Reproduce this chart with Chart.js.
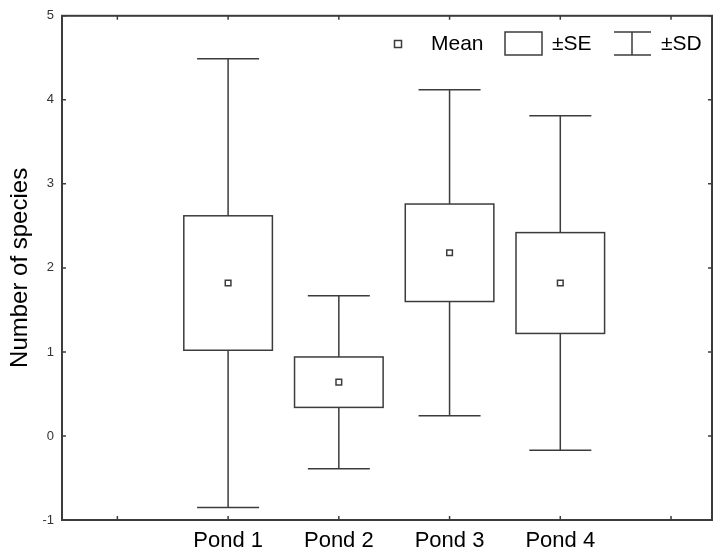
<!DOCTYPE html>
<html>
<head>
<meta charset="utf-8">
<script src="https://cdn.jsdelivr.net/npm/chart.js@4"></script>
<style>
  html, body { margin: 0; padding: 0; background: #fff; }
  #wrap { width: 720px; height: 554px; }
</style>
</head>
<body>
<div id="wrap"><canvas id="grafico" width="720" height="554"></canvas></div>
<script>
const categories = ["Pond 1", "Pond 2", "Pond 3", "Pond 4"];
const means = [1.82, 0.64, 2.18, 1.82];
const se = [0.8, 0.3, 0.58, 0.6];
const sd = [2.67, 1.03, 1.94, 1.99];
const yTicks = [-1, 0, 1, 2, 3, 4, 5];
const xSlots = [0, 1, 2, 3, 4, 5]; // ponds sit on slots 1..4

const lineColor = "#3c3c3c";
const fontName = "'Liberation Sans', Arial, sans-serif";

// boxes (mean ± SE) and whiskers (mean ± SD)
const boxPlugin = {
  id: "boxes",
  beforeDatasetsDraw(chart) {
    const c = chart.ctx;
    const x = chart.scales.x;
    const y = chart.scales.y;
    c.save();
    c.strokeStyle = lineColor;
    c.lineWidth = 1.5;
    categories.forEach((name, i) => {
      const pos = i + 1;
      const xl = x.getPixelForValue(pos - 0.4);
      const xr = x.getPixelForValue(pos + 0.4);
      const xc = x.getPixelForValue(pos);
      const cl = x.getPixelForValue(pos - 0.28);
      const cr = x.getPixelForValue(pos + 0.28);
      const bTop = y.getPixelForValue(means[i] + se[i]);
      const bBot = y.getPixelForValue(means[i] - se[i]);
      const wTop = y.getPixelForValue(means[i] + sd[i]);
      const wBot = y.getPixelForValue(means[i] - sd[i]);
      c.beginPath();
      c.moveTo(xc, bTop); c.lineTo(xc, wTop);
      c.moveTo(cl, wTop); c.lineTo(cr, wTop);
      c.moveTo(xc, bBot); c.lineTo(xc, wBot);
      c.moveTo(cl, wBot); c.lineTo(cr, wBot);
      c.stroke();
      c.strokeRect(xl, bTop, xr - xl, bBot - bTop);
    });
    c.restore();
  },
  afterDraw(chart) {
    const c = chart.ctx;
    const a = chart.chartArea;
    const x = chart.scales.x;
    const y = chart.scales.y;
    c.save();
    c.strokeStyle = lineColor;
    c.lineWidth = 2;
    c.strokeRect(a.left, a.top, a.right - a.left, a.bottom - a.top);
    c.lineWidth = 1.5;
    c.beginPath();
    xSlots.forEach(v => {
      const px = x.getPixelForValue(v);
      c.moveTo(px, a.bottom); c.lineTo(px, a.bottom - 4);
      c.moveTo(px, a.top); c.lineTo(px, a.top + 4);
    });
    yTicks.forEach(v => {
      const py = y.getPixelForValue(v);
      c.moveTo(a.left, py); c.lineTo(a.left + 4, py);
      c.moveTo(a.right, py); c.lineTo(a.right - 4, py);
    });
    c.stroke();

    // legend
    c.lineWidth = 1.5;
    c.strokeRect(394.5, 40.5, 7, 7);
    c.strokeRect(505, 32, 37, 23);
    c.beginPath();
    c.moveTo(614, 32); c.lineTo(651, 32);
    c.moveTo(632, 32); c.lineTo(632, 55);
    c.moveTo(614, 55); c.lineTo(651, 55);
    c.stroke();
    c.fillStyle = "#000";
    c.font = "21px " + fontName;
    c.textBaseline = "middle";
    c.fillText("Mean", 431, 44);
    c.fillText("±SE", 552, 44);
    c.fillText("±SD", 661, 44);
    c.restore();
  }
};

const chart = new Chart(document.getElementById("grafico"), {
  type: "scatter",
  data: {
    datasets: [
      {
        label: "Mean",
        data: means.map((m, i) => ({ x: i + 1, y: m })),
        pointStyle: "rect",
        pointRadius: 4,
        borderColor: lineColor,
        borderWidth: 1.5,
        backgroundColor: "#fff",
      },
    ],
  },
  options: {
    responsive: false,
    animation: false,
    layout: { padding: { left: 0, top: 15, right: 8, bottom: 0 } },
    scales: {
      x: {
        type: "linear",
        min: -0.5,
        max: 5.37,
        afterBuildTicks: (scale) => {
          scale.ticks = xSlots.map(v => ({ value: v }));
        },
        afterFit: (scale) => { scale.height = 34; },
        grid: { display: false, drawTicks: false },
        border: { display: false },
        ticks: {
          padding: 8,
          color: "#000",
          font: { family: fontName, size: 22 },
          callback: (v) => categories[v - 1] || "",
        },
      },
      y: {
        min: -1,
        max: 5,
        afterBuildTicks: (scale) => {
          scale.ticks = yTicks.map(v => ({ value: v }));
        },
        afterFit: (scale) => { scale.width = 62; },
        grid: { display: false, drawTicks: false },
        border: { display: false },
        ticks: {
          padding: 8,
          color: "#333",
          font: { family: fontName, size: 13 },
        },
        title: {
          display: true,
          text: "Number of species",
          color: "#000",
          font: { family: fontName, size: 24 },
          padding: { top: 6, bottom: 0 },
        },
      },
    },
    plugins: {
      legend: { display: false },
      tooltip: { enabled: false },
    },
  },
  plugins: [boxPlugin],
});
</script>
</body>
</html>
